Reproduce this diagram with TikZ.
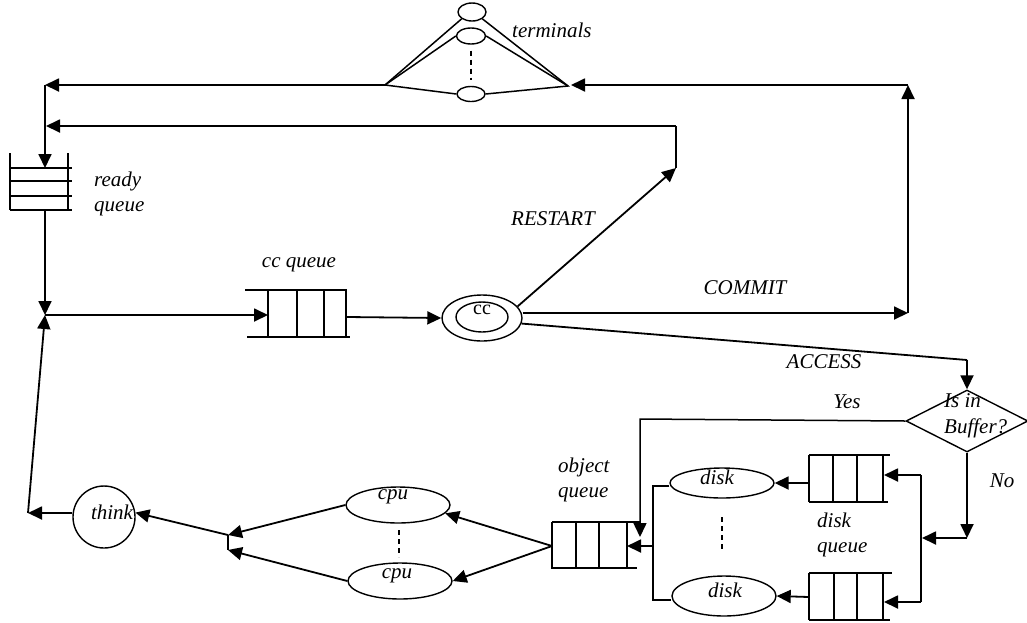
\documentclass[tikz,border=0pt]{standalone}
\usepackage{fontspec}
\setmainfont{Liberation Serif}
\usetikzlibrary{arrows.meta,shapes.geometric}
\begin{document}
\begin{tikzpicture}[x=1pt,y=-1pt,
 conn/.style={line width=1.8pt},
 arr/.style={-{Triangle[length=14pt,width=13pt]}},
 shp/.style={line width=1.5pt},
 ell/.style={draw, ellipse, line width=1.4pt, inner sep=0pt},
 lbl/.style={font=\fontsize{21}{25}\selectfont\itshape, inner sep=0pt, align=left},
 dsh/.style={line width=1.5pt, dash pattern=on 5pt off 4pt}]
\useasboundingbox (0,0) rectangle (1027,622);

% terminals
\node[ell, minimum width=28pt, minimum height=18pt] (t1) at (472,12) {};
\node[ell, minimum width=29pt, minimum height=16pt] (t2) at (471,36) {};
\node[ell, minimum width=28pt, minimum height=15pt] (t3) at (471,94) {};
\coordinate (tl) at (385,85);
\coordinate (tr) at (568,86);
\draw[shp] (t1.south west) -- (tl) -- (t3.west);
\draw[shp] (tl) -- (t2.west);
\draw[shp] (t1.south east) -- (tr) -- (t3.east);
\draw[shp] (t2.east) -- (tr);
\draw[dsh, shorten <=6pt, shorten >=6pt] (t2.south) -- (t3.north);
\node[lbl, anchor=west] (tlab) at (512,30) {terminals};

% top-left loop to ready queue
\coordinate (c1) at (45,85);
\coordinate (rqt) at (45,168);
\coordinate (rqb) at (45,210);
\draw[conn,arr] (tl) -- (c1);
\draw[conn,arr] (c1) -- (rqt);

% ready queue
\draw[shp] (10,153) -- (10,210) (68,153) -- (68,210);
\foreach \yy in {168,181,196,210} \draw[conn] (10,\yy) -- (72,\yy);
\node[lbl, anchor=west] (rql) at (94,194) {ready\\queue};

% restart return
\coordinate (r1) at (676,126);
\coordinate (r2) at (676,168);
\coordinate (c2) at (46,126);
\draw[shp] (r2) -- (r1);
\draw[conn,arr] (r1) -- (c2);

% junction
\coordinate (j) at (45,315);
\coordinate (tk) at (28,513);
\coordinate (ccqin) at (268,315);
\draw[conn,arr] (rqb) -- (j);
\draw[conn,arr] (tk) -- (j);
\draw[conn,arr] (j) -- (ccqin);

% cc queue
\draw[conn] (245,290) -- (347,290) (247,337) -- (350,337);
\foreach \xx in {268,297,324,346} \draw[conn] (\xx,290) -- (\xx,338);
\node[lbl] (ccql) at (299,265) {cc queue};
\coordinate (ccqout) at (347,317);

% cc
\node[ell, minimum width=80pt, minimum height=46pt] (cc) at (482,318) {};
\node[ell, minimum width=52pt, minimum height=30pt] (cci) at (482,317) {};
\node[font=\fontsize{20}{22}\selectfont, inner sep=0pt] (cct) at (482,310) {cc};
\draw[conn,arr] (ccqout) -- (cc.west);

% restart
\draw[conn,arr] (cc.18) -- (r2);
\node[lbl] (rsl) at (553,219) {RESTART};

% commit
\coordinate (cm) at (908,313);
\coordinate (cm2) at (908,85);
\coordinate (trr) at (571,85);
\draw[conn,arr] (cc.east |- cm) -- (cm);
\draw[conn,arr] (cm) -- (cm2);
\draw[conn,arr] (cm2) -- (trr);
\node[lbl] (cml) at (745,288) {COMMIT};

% access / buffer
\node[draw, diamond, line width=1.4pt, minimum width=122pt, minimum height=62pt, inner sep=0pt] (dia) at (967,421) {};
\coordinate (ac) at (967,360);
\draw[conn] (cc.-8) -- (ac);
\draw[conn,arr] (ac) -- (dia.north);
\node[lbl] (acl) at (824,362) {ACCESS};
\node[font=\fontsize{21}{26}\selectfont\itshape, inner sep=0pt, align=left, anchor=west] (dtxt) at (944,416) {Is in\\Buffer?};

% yes
\coordinate (y1) at (640,419);
\coordinate (oqt) at (640,537);
\draw[shp,arr] (dia.west) -- (y1) -- (oqt);
\node[lbl] (yl) at (847,402) {Yes};

% no
\coordinate (n1) at (967,538);
\coordinate (n2) at (922,538);
\draw[conn,arr] (dia.south) -- (n1);
\draw[conn,arr] (n1) -- (n2);
\node[lbl] (nl) at (1002,481) {No};

% disk bus
\coordinate (b1) at (921,475);
\coordinate (b2) at (921,602);
\coordinate (dq1in) at (884,475);
\coordinate (dq2in) at (884,602);
\draw[shp] (b1) -- (b2);
\draw[conn,arr] (b1) -- (dq1in);
\draw[conn,arr] (b2) -- (dq2in);

% disk queues
\draw[conn] (809,455) -- (890,455) (809,502) -- (888,502);
\foreach \xx in {809,833,857,883} \draw[conn] (\xx,455) -- (\xx,502);
\draw[conn] (809,573) -- (892,573) (809,620) -- (890,620);
\foreach \xx in {809,834,857,883} \draw[conn] (\xx,573) -- (\xx,620);
\node[lbl, anchor=west] (dql) at (817,535) {disk\\queue};

% disks
\node[ell, minimum width=104pt, minimum height=30pt] (d1) at (722,483) {};
\node[ell, minimum width=104pt, minimum height=40pt] (d2) at (724,596) {};
\node[lbl] (d1t) at (717,477) {disk};
\node[lbl] (d2t) at (725,590) {disk};
\coordinate (dq1out) at (809,483);
\coordinate (dq2out) at (809,597);
\draw[conn,arr] (dq1out) -- (d1.east);
\draw[conn,arr] (dq2out) -- (d2.east);
\draw[dsh] (722,517) -- (722,552);

% left bus to object queue
\coordinate (lb1) at (653,486);
\coordinate (lb2) at (653,600);
\coordinate (lbm) at (653,546);
\coordinate (oqin) at (627,546);
\draw[shp] (lb1 -| d1.west) -- (lb1) -- (lb2) -- (lb2 -| d2.west);
\draw[conn,arr] (lbm) -- (oqin);

% object queue
\draw[conn] (552,522) -- (640,522) (552,568) -- (637,568);
\foreach \xx in {552,576,599,627} \draw[conn] (\xx,522) -- (\xx,569);
\node[lbl, anchor=west] (oql) at (558,480) {object\\queue};
\coordinate (oqw) at (552,546);

% cpus
\node[ell, minimum width=104pt, minimum height=36pt] (cpu1) at (398,505) {};
\node[ell, minimum width=104pt, minimum height=36pt] (cpu2) at (400,581) {};
\node[lbl] (c1t) at (393,497) {cpu};
\node[lbl] (c2t) at (397,576) {cpu};
\draw[conn,arr] (oqw) -- (cpu1.-10);
\draw[conn,arr] (oqw) -- (cpu2.east);
\draw[dsh] (399,530) -- (399,557);

% junction 2
\coordinate (k1) at (228,535);
\coordinate (k2) at (228,550);
\draw[shp] (k1) -- (k2);
\draw[conn,arr] (cpu1.west) -- (k1);
\draw[conn,arr] (cpu2.west) -- (k2);

% think
\node[draw, circle, line width=1.4pt, minimum size=62pt, inner sep=0pt] (think) at (104,517) {};
\node[lbl] (tht) at (112,512) {think};
\draw[conn,arr] (k1) -- (think.8);
\draw[conn,arr] (think.west |- tk) -- (tk);
\end{tikzpicture}
\end{document}
